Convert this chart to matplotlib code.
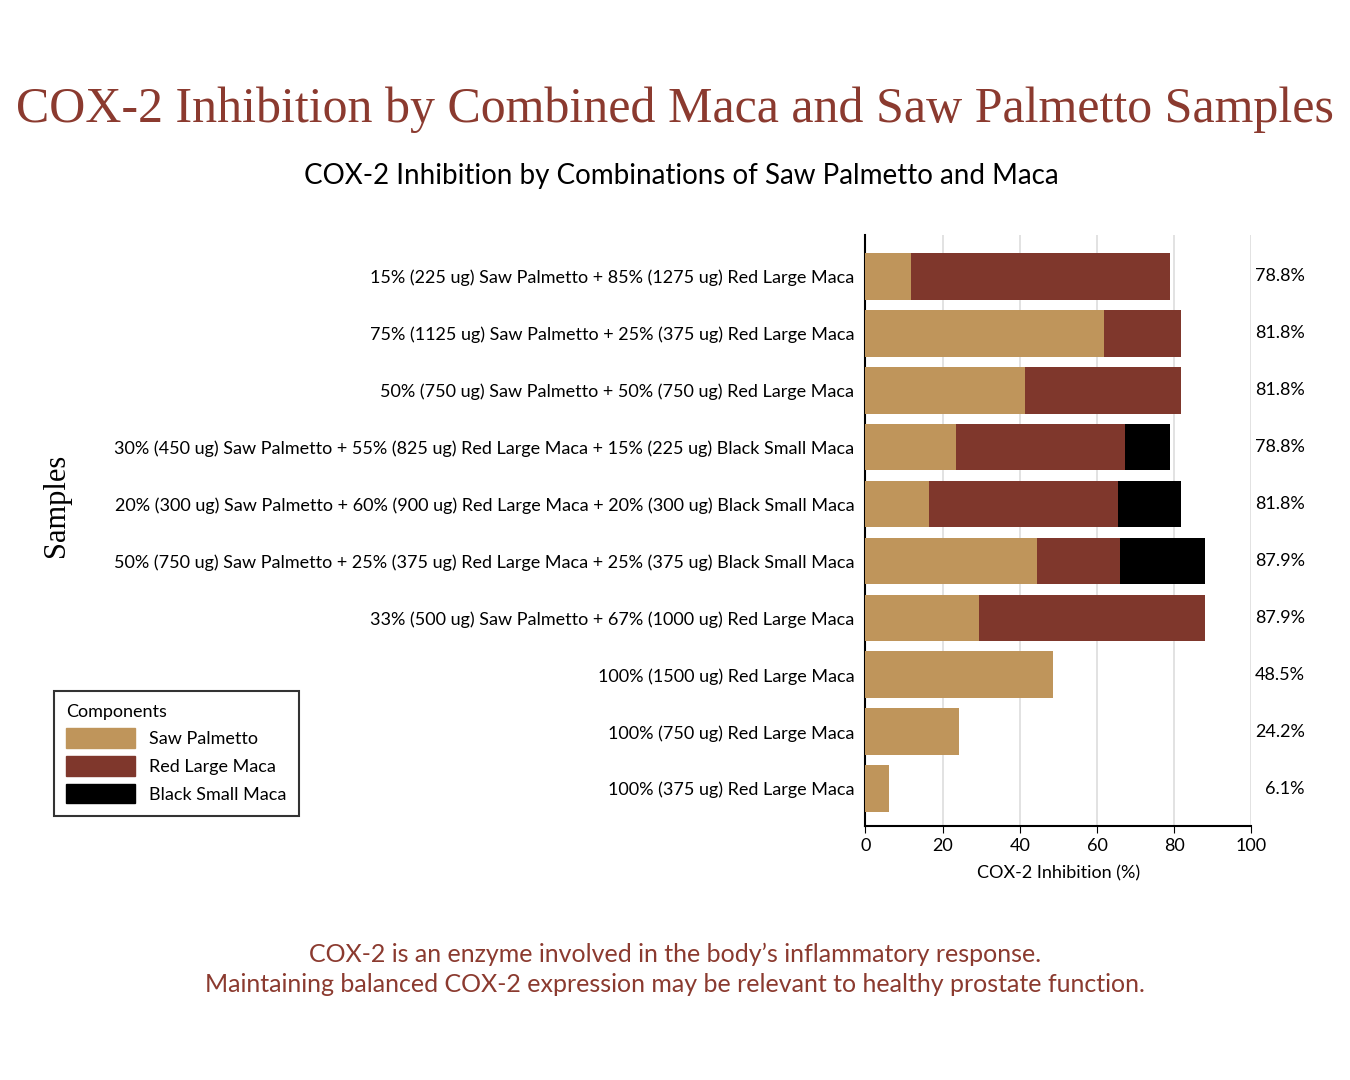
import matplotlib
matplotlib.use("Agg")
import matplotlib.pyplot as plt
from matplotlib.patches import Patch

plt.rcParams["font.family"] = "Lato"

samples = [
    "15% (225 ug) Saw Palmetto + 85% (1275 ug) Red Large Maca",
    "75% (1125 ug) Saw Palmetto + 25% (375 ug) Red Large Maca",
    "50% (750 ug) Saw Palmetto + 50% (750 ug) Red Large Maca",
    "30% (450 ug) Saw Palmetto + 55% (825 ug) Red Large Maca + 15% (225 ug) Black Small Maca",
    "20% (300 ug) Saw Palmetto + 60% (900 ug) Red Large Maca + 20% (300 ug) Black Small Maca",
    "50% (750 ug) Saw Palmetto + 25% (375 ug) Red Large Maca + 25% (375 ug) Black Small Maca",
    "33% (500 ug) Saw Palmetto + 67% (1000 ug) Red Large Maca",
    "100% (1500 ug) Red Large Maca",
    "100% (750 ug) Red Large Maca",
    "100% (375 ug) Red Large Maca",
]
saw_palmetto = [11.9, 61.8, 41.3, 23.5, 16.5, 44.4, 29.5, 48.5, 24.2, 6.1]
red_large_maca = [66.9, 20.0, 40.5, 43.7, 48.9, 21.5, 58.4, 0, 0, 0]
black_small_maca = [0, 0, 0, 11.6, 16.4, 22.0, 0, 0, 0, 0]
totals = ["78.8%", "81.8%", "81.8%", "78.8%", "81.8%", "87.9%", "87.9%", "48.5%", "24.2%", "6.1%"]

c_sp, c_rl, c_bs = "#BF955B", "#7F372C", "#000000"
title_c = "#8B3A2F"

fig = plt.figure(figsize=(13.5, 10.8), dpi=100)
ax = fig.add_axes([0.641, 0.235, 0.286, 0.547])
y = list(range(len(samples)))
ax.barh(y, saw_palmetto, height=0.82, color=c_sp, zorder=3)
ax.barh(y, red_large_maca, left=saw_palmetto, height=0.82, color=c_rl, zorder=3)
left2 = [a + b for a, b in zip(saw_palmetto, red_large_maca)]
ax.barh(y, black_small_maca, left=left2, height=0.82, color=c_bs, zorder=3)
ax.set_ylim(9.66, -0.72)
ax.set_xlim(0, 100)
ax.set_xticks([0, 20, 40, 60, 80, 100])
ax.tick_params(axis="x", labelsize=13, length=5)
ax.set_yticks(y)
ax.set_yticklabels(samples, fontsize=13)
ax.tick_params(axis="y", length=0, pad=8)
ax.xaxis.grid(True, color="#dddddd", lw=1.2, zorder=0)
for s in ["top", "right"]:
    ax.spines[s].set_visible(False)
ax.spines["left"].set_linewidth(1.5)
ax.spines["bottom"].set_linewidth(1.5)
ax.set_xlabel("COX-2 Inhibition (%)", fontsize=13, labelpad=8)
for yi, t in zip(y, totals):
    ax.text(113.8, yi, t, ha="right", va="center", fontsize=13)

fig.text(0.042, 0.532, "Samples", rotation=90, ha="center", va="center",
         fontsize=22, family="Liberation Serif")
fig.text(0.500, 0.898, "COX-2 Inhibition by Combined Maca and Saw Palmetto Samples",
         ha="center", va="center", fontsize=36, color=title_c, family="Liberation Serif")
fig.text(0.505, 0.837, "COX-2 Inhibition by Combinations of Saw Palmetto and Maca",
         ha="center", va="center", fontsize=20)
fig.text(0.5, 0.116, "COX-2 is an enzyme involved in the body\u2019s inflammatory response.",
         ha="center", va="center", fontsize=18, color=title_c)
fig.text(0.5, 0.088, "Maintaining balanced COX-2 expression may be relevant to healthy prostate function.",
         ha="center", va="center", fontsize=18, color=title_c)

handles = [Patch(color=c_sp, label="Saw Palmetto"), Patch(color=c_rl, label="Red Large Maca"),
           Patch(color=c_bs, label="Black Small Maca")]
leg = fig.legend(handles=handles, title="Components", loc="lower left",
                 bbox_to_anchor=(0.033, 0.236), fontsize=13, title_fontsize=13,
                 frameon=True, fancybox=False, edgecolor="black", handlelength=3.8,
                 handleheight=1.3, alignment="left", borderpad=0.7, labelspacing=0.45)
leg.get_frame().set_linewidth(1.5)
fig.savefig("out.png", dpi=100)
